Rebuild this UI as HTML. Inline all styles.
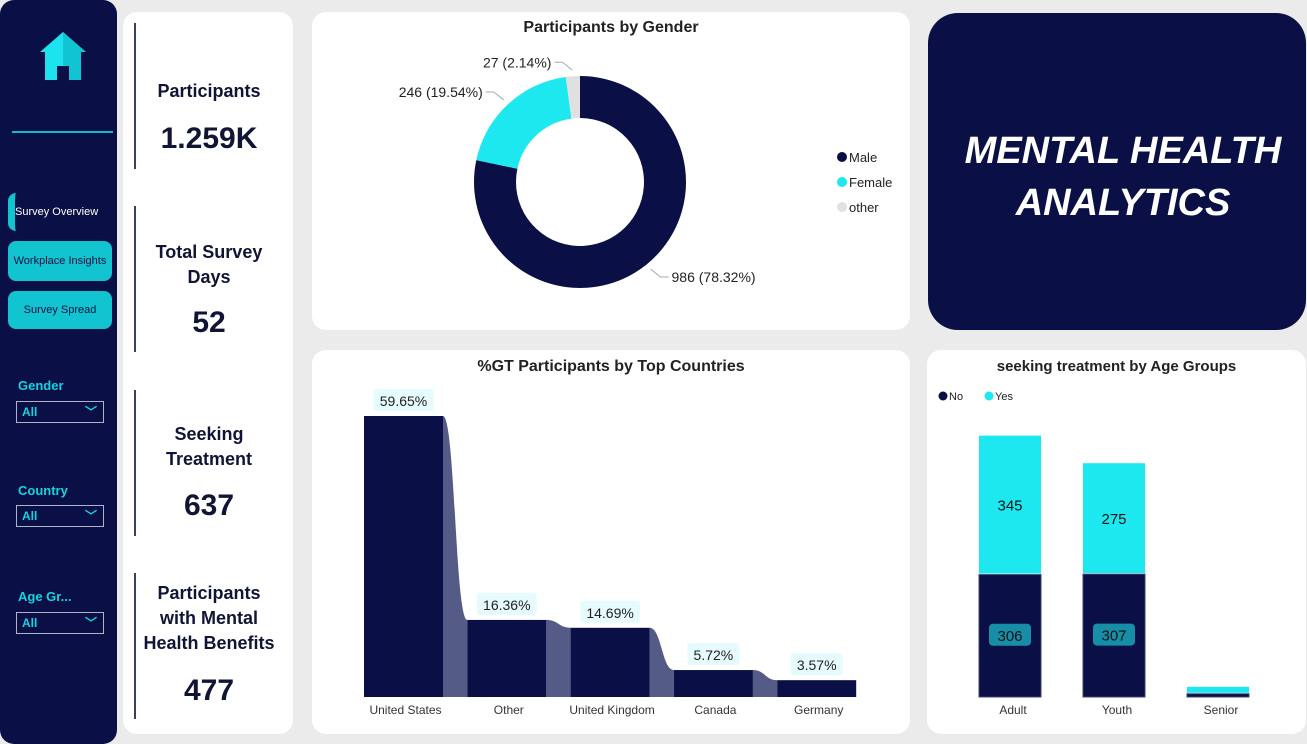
<!DOCTYPE html>
<html><head><meta charset="utf-8">
<style>
*{box-sizing:border-box;margin:0;padding:0}
body{width:1307px;height:744px;background:#ebebeb;font-family:"Liberation Sans",sans-serif;position:relative;overflow:hidden}
.abs{position:absolute}
.card{position:absolute;background:#fff;border-radius:14px}
.side{left:0;top:0;width:117px;height:744px;background:#0a1045;border-radius:14px}
.nav{position:absolute;left:8px;width:104px;height:38px;background:#12c4cf;border-radius:8px;font-size:11px;color:#0a1045;text-align:center;line-height:38px;white-space:nowrap}
.flt{position:absolute;left:18px;color:#16d3e0;font-weight:bold;font-size:13px}
.sel{position:absolute;left:16px;width:88px;height:22px;border:1.5px solid #aeb3c6;color:#16d3e0;font-size:12px;font-weight:bold;padding:3px 5px}
.kpi{position:absolute;left:134px;width:2px;background:#3b4060}
.kt{position:absolute;left:124px;width:170px;text-align:center;font-weight:bold;color:#101535;font-size:18px;line-height:25px}
.kv{position:absolute;left:124px;width:170px;text-align:center;font-weight:bold;color:#101535;font-size:30px}
.title{position:absolute;font-weight:bold;font-size:16px;color:#222;text-align:center}
</style></head><body>
<div class="abs side"></div>
<svg class="abs" style="left:38px;top:30px" width="50" height="52">
<polygon points="25,2 48,22 43,22 43,50 31,50 31,36 19,36 19,50 7,50 7,22 2,22" fill="#1de3ee"/>
<polygon points="25,2 48,22 43,22 43,50 31,50 31,36 25,36" fill="#11c4d2"/></svg>
<div class="abs" style="left:12px;top:131px;width:101px;height:2px;background:#12b8c6"></div>
<div class="nav" style="top:193px;background:none;color:#fff;border-left:7px solid #12c4cf;border-radius:8px 0 0 8px;left:8px;text-align:left;padding-left:0;font-size:11px">Survey Overview</div>
<div class="nav" style="top:241px;height:40px;line-height:40px">Workplace Insights</div>
<div class="nav" style="top:291px">Survey Spread</div>
<div class="flt" style="top:378px">Gender</div>
<div class="sel" style="top:401px">All<span style="position:absolute;right:6px;top:1px">﹀</span></div>
<div class="flt" style="top:483px">Country</div>
<div class="sel" style="top:505px">All<span style="position:absolute;right:6px;top:1px">﹀</span></div>
<div class="flt" style="top:589px">Age Gr...</div>
<div class="sel" style="top:612px">All<span style="position:absolute;right:6px;top:1px">﹀</span></div>

<div class="card" style="left:123px;top:12px;width:170px;height:722px"></div>
<div class="kpi" style="top:23px;height:146px"></div>
<div class="kpi" style="top:206px;height:146px"></div>
<div class="kpi" style="top:390px;height:146px"></div>
<div class="kpi" style="top:573px;height:146px"></div>
<div class="kt" style="top:79px">Participants</div>
<div class="kv" style="top:122px">1.259K</div>
<div class="kt" style="top:240px">Total Survey<br>Days</div>
<div class="kv" style="top:306px">52</div>
<div class="kt" style="top:422px">Seeking<br>Treatment</div>
<div class="kv" style="top:489px">637</div>
<div class="kt" style="top:581px">Participants<br>with Mental<br>Health Benefits</div>
<div class="kv" style="top:674px">477</div>

<div class="card" style="left:312px;top:12px;width:598px;height:318px"></div>
<div class="title" style="left:312px;top:19px;width:598px">Participants by Gender</div>
<svg class="abs" style="left:0;top:0" width="1307" height="744" id="g1"></svg>

<div class="card" style="left:928px;top:13px;width:378px;height:317px;background:#0a1045;border-radius:30px"></div>
<div class="abs" style="left:928px;top:125px;width:390px;text-align:center;color:#fff;font-weight:bold;font-style:italic;font-size:38px;line-height:52px">MENTAL HEALTH<br>ANALYTICS</div>

<div class="card" style="left:312px;top:350px;width:598px;height:384px"></div>
<div class="title" style="left:312px;top:358px;width:598px">%GT Participants by Top Countries</div>

<div class="card" style="left:927px;top:350px;width:379px;height:384px"></div>
<div class="title" style="left:927px;top:358px;width:379px;font-size:15px">seeking treatment by Age Groups</div>

<svg class="abs" style="left:0;top:0" width="1307" height="744" id="c2"></svg>
<svg class="abs" style="left:0;top:0" width="1307" height="744" id="c3"></svg>

<script>
const genderLabels=["Male","Female","other"];
const genderCounts=[986,246,27];
const genderPct=["78.32%","19.54%","2.14%"];
const countryNames=["United States","Other","United Kingdom","Canada","Germany"];
const countryPct=[59.65,16.36,14.69,5.72,3.57];
const ageGroups=["Adult","Youth","Senior"];
const ageNo=[306,307,8];
const ageYes=[345,275,15];

const NS="http://www.w3.org/2000/svg";
function mk(p,t,a,txt){const e=document.createElementNS(NS,t);for(const k in a)e.setAttribute(k,a[k]);if(txt!==undefined)e.textContent=txt;p.appendChild(e);return e;}
const F='"Liberation Sans",sans-serif';

// donut
(function(){
const s=document.getElementById('g1');const cx=580,cy=182,R=106,r=64;
const cols=["#0a1045","#1de8f0","#e0e0e0"];
const tot=genderCounts.reduce((a,b)=>a+b,0);let a0=0;
genderCounts.forEach((v,i)=>{
 const a1=a0+v/tot*2*Math.PI;
 const P=(rr,a)=>[cx+rr*Math.sin(a),cy-rr*Math.cos(a)];
 const [x1,y1]=P(R,a0),[x2,y2]=P(R,a1),[x3,y3]=P(r,a1),[x4,y4]=P(r,a0);
 const lg=(a1-a0)>Math.PI?1:0;
 const p=mk(s,'path',{d:`M${x1},${y1}A${R},${R} 0 ${lg} 1 ${x2},${y2}L${x3},${y3}A${r},${r} 0 ${lg} 0 ${x4},${y4}Z`,fill:cols[i]});
 
 
 const am=(a0+a1)/2;const [lx,ly]=P(R+6,am);const right=Math.sin(am)>0;
 const ex=lx+(right?10:-10),ey=ly+(Math.cos(am)<0?8:-8);
 mk(s,'polyline',{points:`${lx},${ly} ${ex},${ey} ${ex+(right?8:-8)},${ey}`,fill:'none',stroke:'#aaa','stroke-width':1});
 const t=mk(s,'text',{x:ex+(right?11:-11),y:ey+5,'font-size':14,'font-family':F,fill:'#222','text-anchor':right?'start':'end'},`${v} (${genderPct[i]})`);
 
 
 const ly2=157+i*25;
 const c=mk(s,'circle',{cx:842,cy:ly2,r:5,fill:cols[i]});
 
 
 const lt=mk(s,'text',{x:849,y:ly2+5,'font-size':13,'font-family':F,fill:'#222'},genderLabels[i]);
 
 
 a0=a1;});
})();

// countries ribbon
(function(){
const s=document.getElementById('c2');const base=697,k=281/59.65,x0=364,bw=79,step=103.3;
const X=i=>x0+i*step,Y=v=>base-v*k;
countryPct.forEach((v,i)=>{
 if(i<countryPct.length-1){const xa=X(i)+bw,xb=X(i+1),ya=Y(v),yb=Y(countryPct[i+1]),m=(xa+xb)/2;
  const rb=mk(s,'path',{d:`M${xa},${ya}C${m},${ya} ${m},${yb} ${xb},${yb}L${xb},${base}L${xa},${base}Z`,fill:'#555b87'});
  
  }
 const b=mk(s,'rect',{x:X(i),y:Y(v),width:bw,height:base-Y(v),fill:'#0a1045'});
 
 
 const lbl=v.toFixed(2)+'%';const w=lbl.length*8+12;
 const bg=mk(s,'rect',{x:X(i)+bw/2-w/2,y:Y(v)-27,width:w,height:22,rx:3,fill:'#e6fbfd'});
 
 
 const t=mk(s,'text',{x:X(i)+bw/2,y:Y(v)-10,'text-anchor':'middle','font-size':14,'font-family':F,fill:'#222'},lbl);
 
 
 const c=mk(s,'text',{x:X(i)+bw/2+2,y:714,'text-anchor':'middle','font-size':12,'font-family':F,fill:'#333'},countryNames[i]);
 
 
});
})();

// age stacked
(function(){
const s=document.getElementById('c3');const base=697,k=0.4,x0=979,bw=62,step=104;
[["No","#0a1045",943],["Yes","#1de8f0",989]].forEach(([n,c,x])=>{
 const m=mk(s,'circle',{cx:x,cy:396,r:4.5,fill:c});
 
 
 const t=mk(s,'text',{x:x+6,y:400,'font-size':11,'font-family':F,fill:'#222'},n);
 
 });
ageGroups.forEach((g,i)=>{
 const x=x0+i*step,hn=ageNo[i]*k,hy=ageYes[i]*k;
 const bn=mk(s,'rect',{x:x,y:base-hn,width:bw,height:hn,fill:'#0a1045',stroke:'#3d4270','stroke-width':1});
 
 
 const by=mk(s,'rect',{x:x,y:base-hn-hy-1,width:bw,height:hy,fill:'#1de8f0'});
 
 
 if(hn>40){const r=mk(s,'rect',{x:x+10,y:base-hn/2-12,width:42,height:22,rx:4,fill:'#168ea8'});
  
  
  const t=mk(s,'text',{x:x+bw/2,y:base-hn/2+5,'text-anchor':'middle','font-size':15,'font-family':F,fill:'#111'},ageNo[i]);
  
  }
 if(hy>40){const t=mk(s,'text',{x:x+bw/2,y:base-hn-hy/2+5,'text-anchor':'middle','font-size':15,'font-family':F,fill:'#111'},ageYes[i]);
  
  }
 const l=mk(s,'text',{x:x+bw/2+3,y:714,'text-anchor':'middle','font-size':12,'font-family':F,fill:'#333'},g);
 
 
});
})();
</script>
</body></html>
